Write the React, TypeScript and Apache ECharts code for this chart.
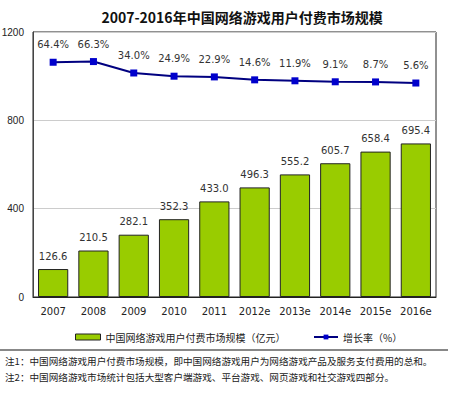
import React, { useEffect, useRef } from "react";
import * as echarts from "echarts";

const categories = ["2007", "2008", "2009", "2010", "2011", "2012e", "2013e", "2014e", "2015e", "2016e"];
const marketSize = [126.6, 210.5, 282.1, 352.3, 433.0, 496.3, 555.2, 605.7, 658.4, 695.4];
const growthRate = [64.4, 66.3, 34.0, 24.9, 22.9, 14.6, 11.9, 9.1, 8.7, 5.6];
const titleText = "2007-2016年中国网络游戏用户付费市场规模";
const barName = "中国网络游戏用户付费市场规模（亿元）";
const lineName = "增长率（%）";
const note1 = "注1：中国网络游戏用户付费市场规模，即中国网络游戏用户为网络游戏产品及服务支付费用的总和。";
const note2 = "注2：中国网络游戏市场统计包括大型客户端游戏、平台游戏、网页游戏和社交游戏四部分。";

const FONT = "'DejaVu Sans', 'Noto Sans CJK SC', sans-serif";
const CJK = "'Noto Sans CJK SC', sans-serif";

export default function App() {
  const ref = useRef<HTMLDivElement>(null);
  useEffect(() => {
    if (!ref.current) return;
    const chart = echarts.init(ref.current, null, { renderer: "svg" });
    chart.setOption({
      animation: false,
      backgroundColor: "#ffffff",
      textStyle: { fontFamily: FONT },
      title: {
        text: titleText,
        left: 237,
        textAlign: "center",
        top: 5,
        textStyle: { fontSize: 14, fontWeight: "bold", color: "#111", fontFamily: CJK },
      },
      grid: {
        left: 33,
        right: 18,
        top: 32,
        bottom: 99,
        show: true,
        borderColor: "#222",
        borderWidth: 1,
        containLabel: false,
        outerBoundsMode: "none",
      },
      legend: [
        {
          top: 327,
          left: 70,
          width: 300,
          textStyle: { fontSize: 10, color: "#222", fontFamily: CJK },
          data: [
            { name: barName, icon: "rect", itemStyle: { color: "#99cc00", borderColor: "#222", borderWidth: 1 } },
          ],
          itemWidth: 25,
          itemHeight: 6,
        },
        {
          top: 327,
          left: 308,
          width: 140,
          textStyle: { fontSize: 10, color: "#222", fontFamily: CJK },
          data: [{ name: lineName }],
          itemWidth: 24,
          itemHeight: 6,
        },
      ],
      xAxis: {
        type: "category",
        data: categories,
        axisTick: { show: false },
        axisLine: { lineStyle: { color: "#222" } },
        axisLabel: { fontSize: 10, color: "#222", margin: 9, interval: 0 },
      },
      yAxis: [
        {
          type: "value",
          min: 0,
          max: 1200,
          interval: 400,
          axisLine: { show: true, lineStyle: { color: "#444" } },
          axisTick: { show: false },
          axisLabel: {
            fontSize: 10,
            color: "#222",
            margin: 9,
            fontFamily: "'Liberation Sans', Arial, sans-serif",
            formatter: (v: number) => String(v),
          },
          splitLine: { lineStyle: { color: "#cccccc" } },
        },
        {
          type: "value",
          min: -600,
          max: 150,
          show: false,
          splitLine: { show: false },
        },
      ],
      series: [
        {
          name: barName,
          type: "bar",
          data: marketSize,
          barWidth: "75%",
          itemStyle: { color: "#99cc00", borderColor: "#222", borderWidth: 1 },
          label: {
            show: true,
            position: "top",
            distance: 8,
            fontSize: 10,
            color: "#333",
            formatter: (p: any) => p.value.toFixed(1),
          },
        },
        {
          name: lineName,
          type: "line",
          yAxisIndex: 1,
          data: growthRate,
          symbol: "rect",
          symbolSize: 7,
          lineStyle: { color: "#000080", width: 2 },
          itemStyle: { color: "#0000cc" },
          label: {
            show: true,
            position: "top",
            distance: 9,
            fontSize: 10,
            color: "#333",
            formatter: (p: any) => p.value.toFixed(1) + "%",
          },
        },
      ],
      graphic: [
        {
          type: "line",
          shape: { x1: 0, y1: 350, x2: 448, y2: 350 },
          style: { stroke: "#888", lineWidth: 2 },
        },
        {
          type: "text",
          x: 5,
          y: 356,
          style: { text: note1, fontSize: 9.6, fill: "#222", fontFamily: CJK },
        },
        {
          type: "text",
          x: 5,
          y: 372,
          style: { text: note2, fontSize: 9.6, fill: "#222", fontFamily: CJK },
        },
      ],
    });
    return () => chart.dispose();
  }, []);
  return (
    <div
      ref={ref}
      style={{ position: "fixed", left: 0, top: 0, width: 454, height: 396 }}
    />
  );
}
